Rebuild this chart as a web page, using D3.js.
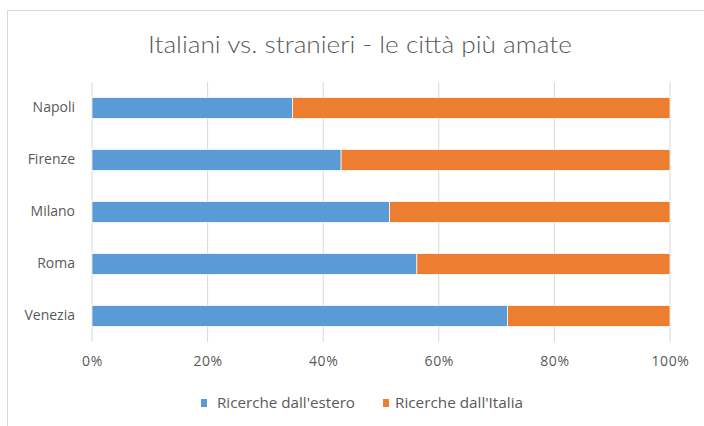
<!DOCTYPE html>
<html><head><meta charset="utf-8">
<script src="https://cdn.jsdelivr.net/npm/d3@7/dist/d3.min.js"></script>
<style>body{margin:0;background:#fff;}svg{display:block;font-family:"Open Sans",sans-serif;}</style>
</head><body>
<script>
const categories = ["Napoli","Firenze","Milano","Roma","Venezia"];
const estero = [0.347, 0.431, 0.515, 0.562, 0.719];
const italia = [0.653, 0.569, 0.485, 0.438, 0.281];
const seriesNames = ["Ricerche dall'estero","Ricerche dall'Italia"];
const xTicks = [0,0.2,0.4,0.6,0.8,1];
const colors = ["#5B9BD5","#ED7D31"];
const title = "Italiani vs. stranieri - le città più amate";

const W=704,H=426;
const svg=d3.select("body").append("svg").attr("width",W).attr("height",H);
svg.append("rect").attr("x",7.5).attr("y",10.5).attr("width",W).attr("height",H).attr("fill","#fff").attr("stroke","#D9D9D9");

const x=d3.scaleLinear().domain([0,1]).range([92,670]);
const y=d3.scaleBand().domain(categories).range([82,342]).paddingInner(0.6).paddingOuter(0.3);

svg.append("g").selectAll("line").data(xTicks).join("line")
  .attr("x1",d=>x(d)).attr("x2",d=>x(d)).attr("y1",82).attr("y2",342)
  .attr("stroke","#D9D9D9").attr("stroke-width",1);

const rows=categories.map((c,i)=>({c,vals:[estero[i],italia[i]]}));
const stack=d3.stack().keys([0,1]).value((d,k)=>d.vals[k])(rows);
svg.append("g").selectAll("g").data(stack).join("g").attr("fill",(d,i)=>colors[i])
  .selectAll("rect").data(d=>d).join("rect")
  .attr("x",d=>x(d[0])).attr("width",d=>x(d[1])-x(d[0]))
  .attr("y",d=>y(d.data.c)).attr("height",y.bandwidth())
  .attr("stroke","#fff").attr("stroke-width",0.7);

const ya=d3.axisLeft(y).tickSize(0).tickPadding(17);
const yg=svg.append("g").attr("transform","translate(92,0)").call(ya);
yg.select(".domain").remove();
yg.selectAll("text").attr("fill","#595959").attr("font-size",14).attr("font-family","'Open Sans',sans-serif");

const xa=d3.axisBottom(x).tickValues(xTicks).tickFormat(d3.format(".0%")).tickSize(0).tickPadding(0);
const xg=svg.append("g").attr("transform","translate(0,356)").call(xa);
xg.select(".domain").remove();
xg.selectAll("text").attr("fill","#595959").attr("font-size",14).attr("letter-spacing",0.6).attr("font-family","'Open Sans',sans-serif");

svg.append("text").attr("x",360).attr("y",53).attr("text-anchor","middle")
  .attr("fill","#595959").attr("font-size",24).attr("font-weight",300).attr("font-family","Lato,sans-serif")
  .attr("textLength",424).attr("lengthAdjust","spacingAndGlyphs").text(title);

const lx=[201,383];
const lw=[138,128];
const lg=svg.append("g").selectAll("g").data(seriesNames).join("g")
  .attr("transform",(d,i)=>`translate(${lx[i]},398)`);
lg.append("rect").attr("width",6).attr("height",8).attr("y",1).attr("fill",(d,i)=>colors[i]);
lg.append("text").attr("x",(d,i)=>i?12:16).attr("y",10).attr("fill","#595959").attr("font-size",14)
  .attr("textLength",(d,i)=>lw[i]).attr("lengthAdjust","spacingAndGlyphs").text(d=>d);
</script>
</body></html>
